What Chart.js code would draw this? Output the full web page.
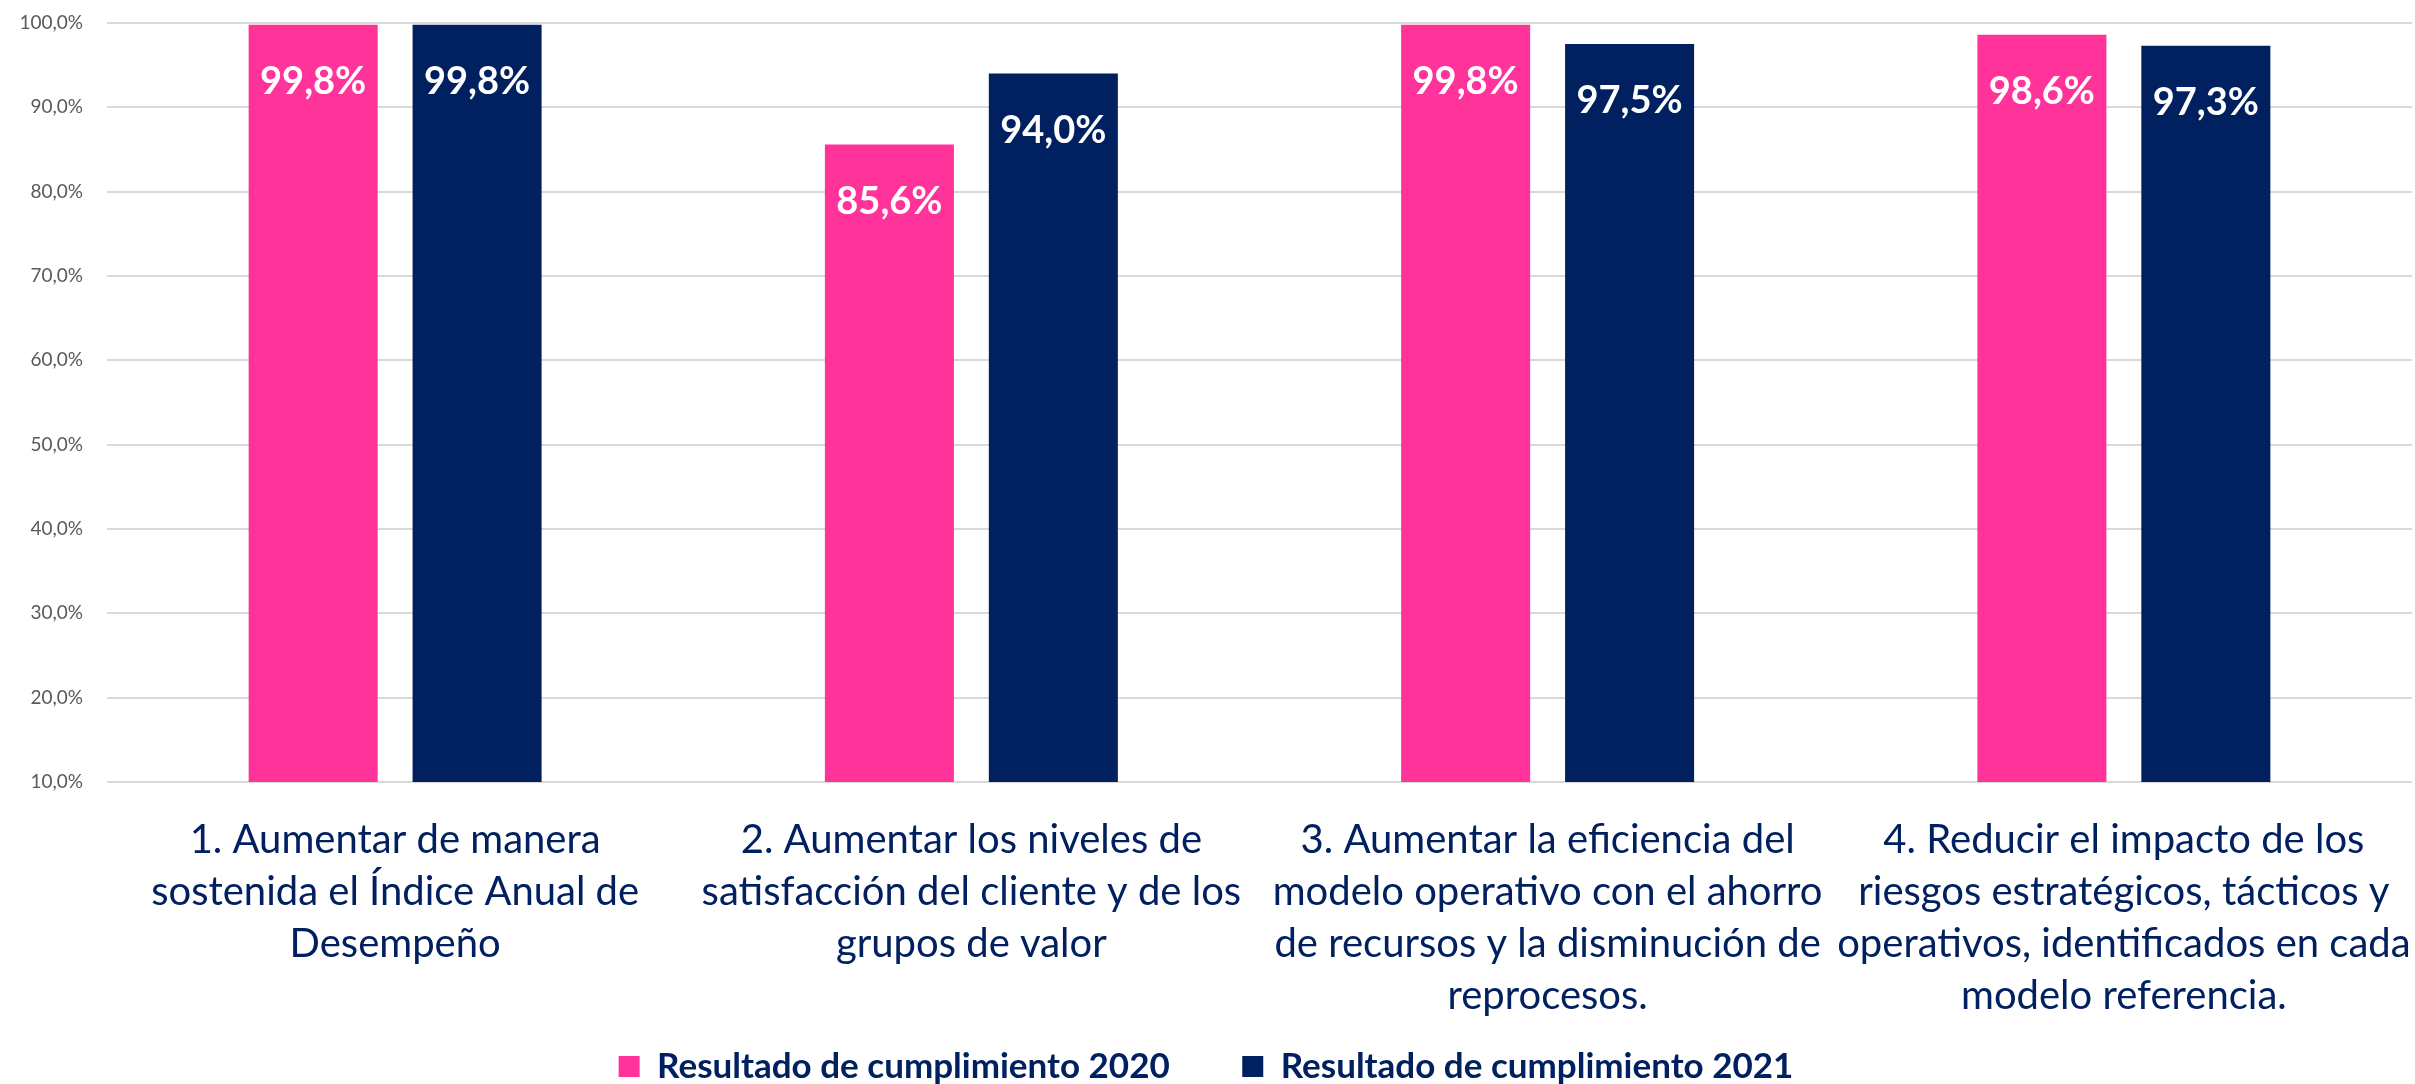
<!DOCTYPE html>
<html>
<head>
<meta charset="utf-8">
<script src="https://cdn.jsdelivr.net/npm/chart.js@4.4.0/dist/chart.umd.min.js"></script>
<style>
  body { margin: 0; background: #fff; }
  #wrap { width: 2415px; height: 1084px; }
</style>
</head>
<body>
<div id="wrap"><canvas id="chart" width="2415" height="1084"></canvas></div>
<script>
const categories = [
  ['1. Aumentar de manera', 'sostenida el Índice Anual de', 'Desempeño'],
  ['2. Aumentar los niveles de', 'satisfacción del cliente y de los', 'grupos de valor'],
  ['3. Aumentar la eficiencia del', 'modelo operativo con el ahorro', 'de recursos y la disminución de', 'reprocesos.'],
  ['4. Reducir el impacto de los', 'riesgos estratégicos, tácticos y', 'operativos, identificados en cada', 'modelo referencia.']
];
const seriesNames = ['Resultado de cumplimiento 2020', 'Resultado de cumplimiento 2021'];
const values2020 = [99.8, 85.6, 99.8, 98.6];
const values2021 = [99.8, 94.0, 97.5, 97.3];

const FONT = 'Lato';
const NAVY = '#002060';
const PINK = '#FF3399';

const pct = (v) => v.toFixed(1).replace('.', ',') + '%';

// white values inside the top of each bar
const valueLabels = {
  id: 'valueLabels',
  afterDatasetsDraw(chart) {
    const { ctx } = chart;
    ctx.save();
    ctx.font = `bold 38px ${FONT}`;
    ctx.fillStyle = '#ffffff';
    ctx.textAlign = 'center';
    ctx.textBaseline = 'middle';
    chart.data.datasets.forEach((ds, i) => {
      chart.getDatasetMeta(i).data.forEach((bar, j) => {
        ctx.fillText(pct(ds.data[j]), bar.x, bar.y + 57);
      });
    });
    ctx.restore();
  }
};

new Chart(document.getElementById('chart'), {
  type: 'bar',
  data: {
    labels: categories,
    datasets: [
      { label: seriesNames[0], data: values2020, backgroundColor: PINK },
      { label: seriesNames[1], data: values2021, backgroundColor: NAVY }
    ]
  },
  options: {
    responsive: false,
    animation: false,
    categoryPercentage: 0.569,
    barPercentage: 0.787,
    layout: { padding: { top: 23, right: 3, left: 0, bottom: -10 } },
    plugins: {
      tooltip: { enabled: false },
      legend: {
        position: 'bottom',
        labels: {
          boxWidth: 21,
          boxHeight: 21,
          padding: 20,
          color: NAVY,
          font: { family: FONT, size: 35, weight: 'bold' },
          // wider gap between the two entries, like the original
          generateLabels: (chart) =>
            Chart.defaults.plugins.legend.labels.generateLabels(chart).map((item, i) => {
              if (i === 0) item.text = item.text + '\u2003\u2003';
              return item;
            })
        }
      }
    },
    scales: {
      x: {
        grid: { display: false, drawTicks: false },
        border: { display: false },
        ticks: {
          color: NAVY,
          padding: 32,
          maxRotation: 0,
          autoSkip: false,
          font: { family: FONT, size: 40, lineHeight: '52px' }
        },
        afterFit: (s) => { s.height = 247; s.paddingLeft = 0; s.paddingRight = 0; }
      },
      y: {
        min: 10,
        max: 100,
        grid: { color: '#d9d9d9', lineWidth: 2, drawTicks: false },
        border: { display: false },
        ticks: {
          stepSize: 10,
          padding: 24,
          color: '#595959',
          font: { family: FONT, size: 19 },
          callback: (v) => pct(v)
        },
        afterFit: (s) => { s.width = 107; s.paddingTop = 0; s.paddingBottom = 0; }
      }
    }
  },
  plugins: [valueLabels]
});
</script>
</body>
</html>
